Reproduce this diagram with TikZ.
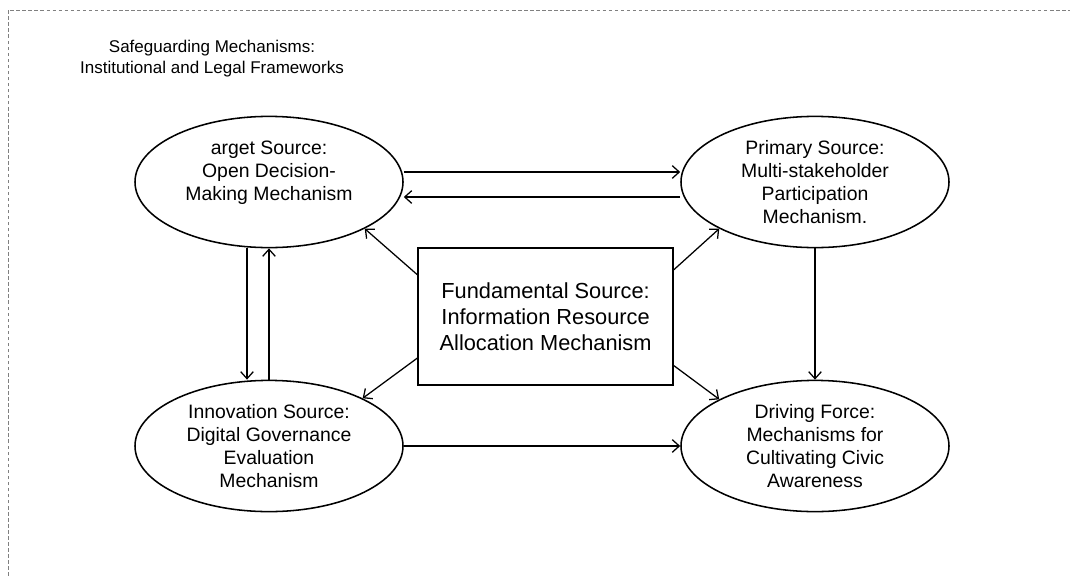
\documentclass[tikz,border=0pt]{standalone}
\usepackage{fontspec}
\setmainfont{Liberation Sans}
\usetikzlibrary{shapes.geometric, arrows.meta, positioning}

\begin{document}
\begin{tikzpicture}[->, >={Straight Barb[length=5pt, width=9pt]}, line width=0.9pt,
    src/.style={ellipse, draw, line width=1.1pt, inner sep=0pt, minimum width=6.7cm, minimum height=3.28cm,
        align=center, font=\fontsize{13.8}{16.4}\selectfont},
    base/.style={rectangle, draw, line width=1.1pt, minimum width=6.375cm, minimum height=3.425cm,
        align=center, font=\fontsize{15.5}{18.6}\selectfont}]
        \useasboundingbox (0,0) rectangle (26.75,-14.4);
        \draw[-, gray, line width=0.7pt, dash pattern=on 2.5pt off 1.8pt] (0.2,-14.4) -- (0.2,-0.25) -- (26.75,-0.25);

        \node[align=center, font=\fontsize{12.1}{15}\selectfont] (S) at (5.3,-1.46) {Safeguarding Mechanisms:\\Institutional and Legal Frameworks};

        \node[src] (T) at (6.725,-4.55) {arget Source:\\Open Decision-\\Making Mechanism\\\mbox{}};
        \node[src] (P) [right of=T, node distance=13.65cm] {Primary Source:\\Multi-stakeholder\\Participation\\Mechanism.};
        \node[src] (I) [below of=T, node distance=6.6cm] {Innovation Source:\\Digital Governance\\Evaluation\\Mechanism};
        \node[src] (D) [below of=P, node distance=6.6cm] {Driving Force:\\Mechanisms for\\Cultivating Civic\\Awareness};
        \node[base] (F) at (13.64,-7.91) {Fundamental Source:\\Information Resource\\Allocation Mechanism};

        \path
            ([yshift=0.25cm]T.east) edge ([yshift=0.25cm]P.west)
            ([yshift=-0.375cm]P.west) edge ([yshift=-0.375cm]T.east)
            ([xshift=-0.55cm]T.south) edge ([xshift=-0.55cm]I.north)
            (I.north) edge (T.south)
            (P.south) edge (D.north)
            (I.east) edge (D.west)
            (F.162) edge (T.-26)
            (F.20) edge (P.206)
            (F.198) edge (I.27)
            (F.-21) edge (D.154);
\end{tikzpicture}
\end{document}
